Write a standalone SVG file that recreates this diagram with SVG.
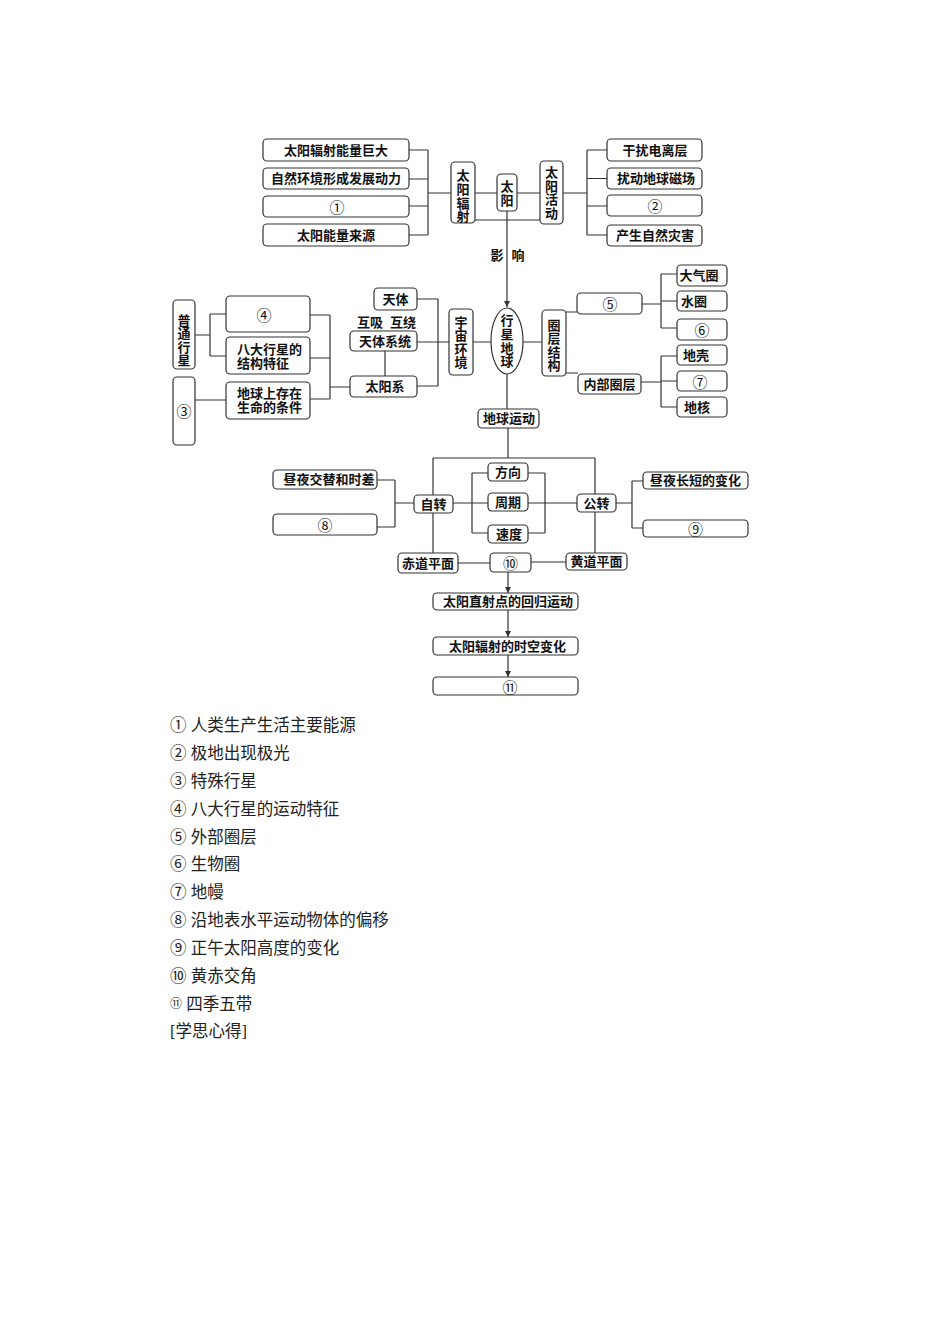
<svg xmlns="http://www.w3.org/2000/svg" width="950" height="1344" viewBox="0 0 950 1344">
<style>
.b{fill:#fff;stroke:#333;stroke-width:1.2}
.l{fill:none;stroke:#333;stroke-width:1.2}
.t{font-family:"Liberation Serif","Noto Sans CJK SC",serif;font-size:13px;font-weight:bold;text-anchor:middle;dominant-baseline:central;fill:#111}
.tl{font-family:"Liberation Serif","Noto Sans CJK SC",serif;font-size:13px;font-weight:bold;dominant-baseline:central;fill:#111}
.c{font-family:"Noto Sans CJK SC","DejaVu Sans",sans-serif;font-size:15px;text-anchor:middle;dominant-baseline:central;fill:#111}
.g{font-family:"Liberation Serif","Noto Sans CJK SC",serif;font-size:16.5px;dominant-baseline:central;fill:#222}
</style>
<defs>
<marker id="ah" markerWidth="6" markerHeight="8" refX="6" refY="4" orient="auto" markerUnits="userSpaceOnUse">
<path d="M0,1 L6,4 L0,7 Z" fill="#333"/>
</marker>
</defs>
<rect width="950" height="1344" fill="#fff"/>

<g id="connectors">
<path class="l" d="M409,150H428M409,179H428M409,206H428M409,235H428M428,150V235M428,193H451"/>
<path class="l" d="M475,193H497M517,193H540M475,220H540"/>
<path class="l" d="M563,193H587M587,150V235M587,150H607M587,178.5H607M587,206H607M587,235H607"/>
<line class="l" x1="507" y1="211" x2="507" y2="307" marker-end="url(#ah)"/>
<path class="l" d="M473,342H491M523,342H542M417,342H449"/>
<path class="l" d="M385,351V376M417,299H438M417,386H438M438,299V386"/>
<path class="l" d="M310,315H330M310,358H330M310,399H330M330,315V399M330,387H350"/>
<path class="l" d="M195,335H210M210,314V356M210,314H226M210,356H226M195,400H226"/>
<path class="l" d="M566,312H577M566,373H578"/>
<path class="l" d="M642,304H661M661,274V328M661,274H677M661,301H677M661,328H677"/>
<path class="l" d="M641,382H661M661,356V407M661,356H677M661,381H677M661,407H677"/>
<path class="l" d="M507,374V409M508,428V458M433,458H595M433,458V495M433,513V553M595,458V494M595,512V553"/>
<path class="l" d="M453,503H472M472,473V533M472,473H488M472,503H488M472,533H488"/>
<path class="l" d="M528,473H545M528,533H545M545,473V533M528,503H577"/>
<path class="l" d="M414,503H395M395,480V527M395,480H377M395,527H377"/>
<path class="l" d="M616,503H632M632,481V528M632,481H643M632,528H643"/>
<path class="l" d="M458,563H490M531,562H566"/>
<line class="l" x1="508" y1="572" x2="508" y2="593" marker-end="url(#ah)"/>
<line class="l" x1="508" y1="610" x2="508" y2="637" marker-end="url(#ah)"/>
<line class="l" x1="508" y1="655" x2="508" y2="677" marker-end="url(#ah)"/>
</g>

<g id="n-taiyangfushe-nl"><rect class="b" x="263" y="139" width="146" height="22" rx="4"/><text class="t" x="336" y="150">太阳辐射能量巨大</text></g>
<g id="n-dongli"><rect class="b" x="263" y="168" width="146" height="21" rx="4"/><text class="t" x="336" y="178.5">自然环境形成发展动力</text></g>
<g id="n-q1"><rect class="b" x="263" y="196" width="146" height="21" rx="4"/><text class="c" x="337" y="206.5">①</text></g>
<g id="n-laiyuan"><rect class="b" x="263" y="224" width="146" height="22" rx="4"/><text class="t" x="336" y="235">太阳能量来源</text></g>

<g id="n-taiyangfushe"><rect class="b" x="451" y="162" width="24" height="61" rx="4"/>
<text class="t" x="463" y="175">太</text><text class="t" x="463" y="189">阳</text><text class="t" x="463" y="203">辐</text><text class="t" x="463" y="216">射</text></g>
<g id="n-taiyang"><rect class="b" x="497" y="174" width="20" height="37" rx="4"/>
<text class="t" x="507" y="186">太</text><text class="t" x="507" y="200">阳</text></g>
<g id="n-taiyanghuodong"><rect class="b" x="540" y="161" width="23" height="63" rx="4"/>
<text class="t" x="551.5" y="172">太</text><text class="t" x="551.5" y="186">阳</text><text class="t" x="551.5" y="199">活</text><text class="t" x="551.5" y="213">动</text></g>

<g id="n-dianliceng"><rect class="b" x="607" y="139" width="95" height="22" rx="4"/><text class="t" x="655" y="150">干扰电离层</text></g>
<g id="n-cichang"><rect class="b" x="607" y="168" width="95" height="21" rx="4"/><text class="t" x="656" y="178.5">扰动地球磁场</text></g>
<g id="n-q2"><rect class="b" x="607" y="195" width="95" height="21" rx="4"/><text class="c" x="655" y="205.5">②</text></g>
<g id="n-zaihai"><rect class="b" x="607" y="225" width="95" height="21" rx="4"/><text class="t" x="655" y="235.5">产生自然灾害</text></g>

<g id="label-yingxiang"><text class="t" x="497" y="255">影</text><text class="t" x="518" y="255">响</text></g>

<g id="n-xingxingdiqiu"><ellipse class="b" cx="507" cy="341" rx="16" ry="33"/>
<text class="t" x="507" y="320">行</text><text class="t" x="507" y="334">星</text><text class="t" x="507" y="348">地</text><text class="t" x="507" y="361">球</text></g>
<g id="n-yuzhouhuanjing"><rect class="b" x="449" y="309" width="24" height="66" rx="4"/>
<text class="t" x="461" y="322">宇</text><text class="t" x="461" y="335">宙</text><text class="t" x="461" y="349">环</text><text class="t" x="461" y="362">境</text></g>
<g id="n-quancengjiegou"><rect class="b" x="542" y="310" width="24" height="66" rx="4"/>
<text class="t" x="554" y="325">圈</text><text class="t" x="554" y="338">层</text><text class="t" x="554" y="352">结</text><text class="t" x="554" y="365">构</text></g>

<g id="n-tianti"><rect class="b" x="374" y="288" width="43" height="22" rx="4"/><text class="t" x="395.5" y="299">天体</text></g>
<g id="label-huxi"><text class="t" x="370" y="322">互吸</text><text class="t" x="403" y="322">互绕</text></g>
<g id="n-tiantixitong"><rect class="b" x="350" y="331" width="67" height="20" rx="4"/><text class="t" x="385" y="341">天体系统</text></g>
<g id="n-taiyangxi"><rect class="b" x="350" y="376" width="67" height="21" rx="4"/><text class="t" x="385" y="386.5">太阳系</text></g>

<g id="n-q4"><rect class="b" x="226" y="296" width="84" height="36" rx="4"/><text class="c" x="264" y="314">④</text></g>
<g id="n-jiegoutezheng"><rect class="b" x="226" y="337" width="84" height="37" rx="4"/><text class="tl" x="237" y="349">八大行星的</text><text class="tl" x="237" y="363">结构特征</text></g>
<g id="n-shengming"><rect class="b" x="226" y="382" width="84" height="37" rx="4"/><text class="tl" x="237" y="393.5">地球上存在</text><text class="tl" x="237" y="407.5">生命的条件</text></g>
<g id="n-putongxingxing"><rect class="b" x="173" y="300" width="22" height="69" rx="4"/>
<text class="t" x="184" y="320">普</text><text class="t" x="184" y="333">通</text><text class="t" x="184" y="347">行</text><text class="t" x="184" y="360">星</text></g>
<g id="n-q3"><rect class="b" x="173" y="377" width="22" height="68" rx="4"/><text class="c" x="184" y="410">③</text></g>

<g id="n-q5"><rect class="b" x="577" y="293" width="65" height="21" rx="4"/><text class="c" x="610" y="303.5">⑤</text></g>
<g id="n-neibuquanceng"><rect class="b" x="578" y="374" width="63" height="20" rx="4"/><text class="t" x="609.5" y="384">内部圈层</text></g>
<g id="n-daqiquan"><rect class="b" x="677" y="265" width="50" height="21" rx="4"/><text class="t" x="699" y="275.5">大气圈</text></g>
<g id="n-shuiquan"><rect class="b" x="677" y="291" width="50" height="20" rx="4"/><text class="t" x="694" y="301">水圈</text></g>
<g id="n-q6"><rect class="b" x="677" y="319" width="50" height="21" rx="4"/><text class="c" x="702" y="329.5">⑥</text></g>
<g id="n-diqiao"><rect class="b" x="677" y="345" width="50" height="20" rx="4"/><text class="t" x="696" y="355">地壳</text></g>
<g id="n-q7"><rect class="b" x="677" y="371" width="50" height="20" rx="4"/><text class="c" x="700" y="381">⑦</text></g>
<g id="n-dihe"><rect class="b" x="677" y="397" width="50" height="20" rx="4"/><text class="t" x="697" y="407">地核</text></g>

<g id="n-diqiuyundong"><rect class="b" x="478" y="409" width="61" height="19" rx="4"/><text class="t" x="509" y="418.5">地球运动</text></g>
<g id="n-zizhuan"><rect class="b" x="414" y="495" width="39" height="18" rx="4"/><text class="t" x="433.5" y="504">自转</text></g>
<g id="n-gongzhuan"><rect class="b" x="577" y="494" width="39" height="18" rx="4"/><text class="t" x="596.5" y="503">公转</text></g>
<g id="n-fangxiang"><rect class="b" x="488" y="463" width="40" height="18" rx="4"/><text class="t" x="508" y="472">方向</text></g>
<g id="n-zhouqi"><rect class="b" x="488" y="493" width="40" height="18" rx="4"/><text class="t" x="508" y="502">周期</text></g>
<g id="n-sudu"><rect class="b" x="488" y="525" width="40" height="18" rx="4"/><text class="t" x="509" y="534">速度</text></g>
<g id="n-zhouye"><rect class="b" x="273" y="470" width="104" height="19" rx="4"/><text class="t" x="329" y="479.5">昼夜交替和时差</text></g>
<g id="n-q8"><rect class="b" x="273" y="514" width="104" height="21" rx="4"/><text class="c" x="325" y="524.5">⑧</text></g>
<g id="n-zhouyechangduan"><rect class="b" x="643" y="472" width="105" height="17" rx="4"/><text class="t" x="695.5" y="480.5">昼夜长短的变化</text></g>
<g id="n-q9"><rect class="b" x="643" y="520" width="105" height="17" rx="4"/><text class="c" x="695.5" y="528.5">⑨</text></g>
<g id="n-chidao"><rect class="b" x="398" y="553" width="60" height="20" rx="4"/><text class="t" x="428" y="563">赤道平面</text></g>
<g id="n-q10"><rect class="b" x="490" y="553" width="41" height="19" rx="4"/><text class="c" x="510.5" y="562.5">⑩</text></g>
<g id="n-huangdao"><rect class="b" x="566" y="553" width="61" height="17" rx="4"/><text class="t" x="596.5" y="561.5">黄道平面</text></g>
<g id="n-huigui"><rect class="b" x="433" y="593" width="145" height="17" rx="4"/><text class="t" x="508" y="601.5">太阳直射点的回归运动</text></g>
<g id="n-shikong"><rect class="b" x="433" y="637" width="145" height="18" rx="4"/><text class="t" x="507.5" y="646">太阳辐射的时空变化</text></g>
<g id="n-q11"><rect class="b" x="433" y="677" width="145" height="18" rx="4"/><text class="c" x="510" y="686">⑪</text></g>

<g id="legend">
<text class="g" x="170" y="725">① 人类生产生活主要能源</text>
<text class="g" x="170" y="753">② 极地出现极光</text>
<text class="g" x="170" y="781">③ 特殊行星</text>
<text class="g" x="170" y="809">④ 八大行星的运动特征</text>
<text class="g" x="170" y="837">⑤ 外部圈层</text>
<text class="g" x="170" y="864">⑥ 生物圈</text>
<text class="g" x="170" y="892">⑦ 地幔</text>
<text class="g" x="170" y="920">⑧ 沿地表水平运动物体的偏移</text>
<text class="g" x="170" y="948">⑨ 正午太阳高度的变化</text>
<text class="g" x="170" y="976">⑩ 黄赤交角</text>
<text class="g" x="170" y="1004"><tspan font-size="12">⑪</tspan> 四季五带</text>
<text class="g" x="170" y="1031">[学思心得]</text>
</g>
</svg>
